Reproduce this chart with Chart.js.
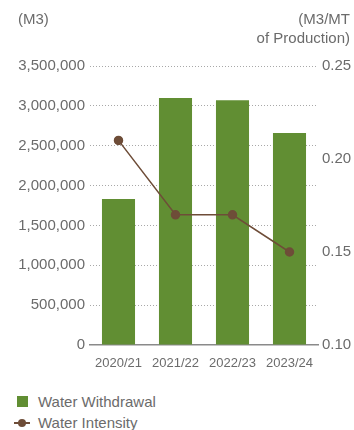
<!DOCTYPE html>
<html>
<head>
<meta charset="utf-8">
<script src="https://cdn.jsdelivr.net/npm/chart.js@4"></script>
<style>
  body { margin: 0; background: #fff; font-family: "Liberation Sans", Arial, sans-serif; color: #6b6b6b; }
  #wrap { position: relative; width: 354px; height: 430px; }
  #box { position: absolute; left: 0; top: 0; width: 354px; height: 380px; }
  .ttl { position: absolute; font-size: 15px; line-height: 19px; }
  .leg { position: absolute; left: 14px; font-size: 15px; display: flex; align-items: center; }
  .sw { width: 11px; height: 11px; background: #618e33; margin: 0 10px 0 3px; }
  .ln { position: relative; width: 16px; height: 2px; background: #6e4d38; margin-right: 8px; }
  .ln::after { content: ""; position: absolute; left: 4px; top: -3px; width: 8px; height: 8px; border-radius: 50%; background: #6e4d38; }
</style>
</head>
<body>
<div id="wrap">
  <div id="box"><canvas id="WaterChart"></canvas></div>
  <div class="ttl" style="left:18px;top:9px;">(M3)</div>
  <div class="ttl" style="right:4px;top:9px;text-align:right;">(M3/MT<br>of Production)</div>
  <div class="leg" style="top:393px;"><span class="sw"></span>Water Withdrawal</div>
  <div class="leg" style="top:414px;"><span class="ln"></span>Water Intensity</div>
</div>
<script>
const years = ['2020/21', '2021/22', '2022/23', '2023/24'];
const withdrawal = [1830000, 3100000, 3070000, 2660000];
const intensity = [0.21, 0.17, 0.17, 0.15];

const ctx = document.getElementById('WaterChart');

new Chart(ctx, {
    data: {
        labels: years,
        datasets: [{
            type: 'line',
            label: 'Water Intensity',
            data: intensity,
            yAxisID: 'y2',
            borderColor: '#6e4d38',
            backgroundColor: '#6e4d38',
            borderWidth: 1.5,
            pointRadius: 4,
            pointHoverRadius: 4,
            tension: 0
        }, {
            type: 'bar',
            label: 'Water Withdrawal',
            data: withdrawal,
            yAxisID: 'y',
            backgroundColor: '#618e33',
            barPercentage: 0.58,
            categoryPercentage: 1
        }]
    },
    options: {
        responsive: true,
        maintainAspectRatio: false,
        animation: false,
        layout: { padding: { top: 66, left: 0, right: 0, bottom: 0 } },
        plugins: { legend: { display: false }, tooltip: { enabled: false } },
        scales: {
            x: {
                grid: { display: false },
                border: { display: true, color: '#8a8a8a', width: 1.5 },
                ticks: { color: '#6b6b6b', font: { size: 13, family: 'Liberation Sans' }, padding: 3, maxRotation: 0 },
                afterFit: function (s) { s.height = 35; }
            },
            y: {
                position: 'left',
                min: 0,
                max: 3500000,
                ticks: {
                    stepSize: 500000,
                    color: '#6b6b6b',
                    padding: 5,
                    font: { size: 15, family: 'Liberation Sans' },
                    callback: function (v) { return v.toLocaleString('en-US'); }
                },
                grid: {
                    drawTicks: false,
                    color: function (c) { return c.tick && c.tick.value === 0 ? 'rgba(0,0,0,0)' : '#a8a8a8'; }
                },
                border: { display: false, dash: [1, 2] },
                afterFit: function (s) { s.width = 90; }
            },
            y2: {
                position: 'right',
                min: 0.10,
                max: 0.25,
                ticks: {
                    stepSize: 0.05,
                    color: '#6b6b6b',
                    padding: 4,
                    font: { size: 15, family: 'Liberation Sans' },
                    callback: function (v) { return v.toFixed(2); }
                },
                grid: { drawOnChartArea: false, drawTicks: false },
                border: { display: false },
                afterFit: function (s) { s.width = 36; }
            }
        }
    }
});
</script>
</body>
</html>
